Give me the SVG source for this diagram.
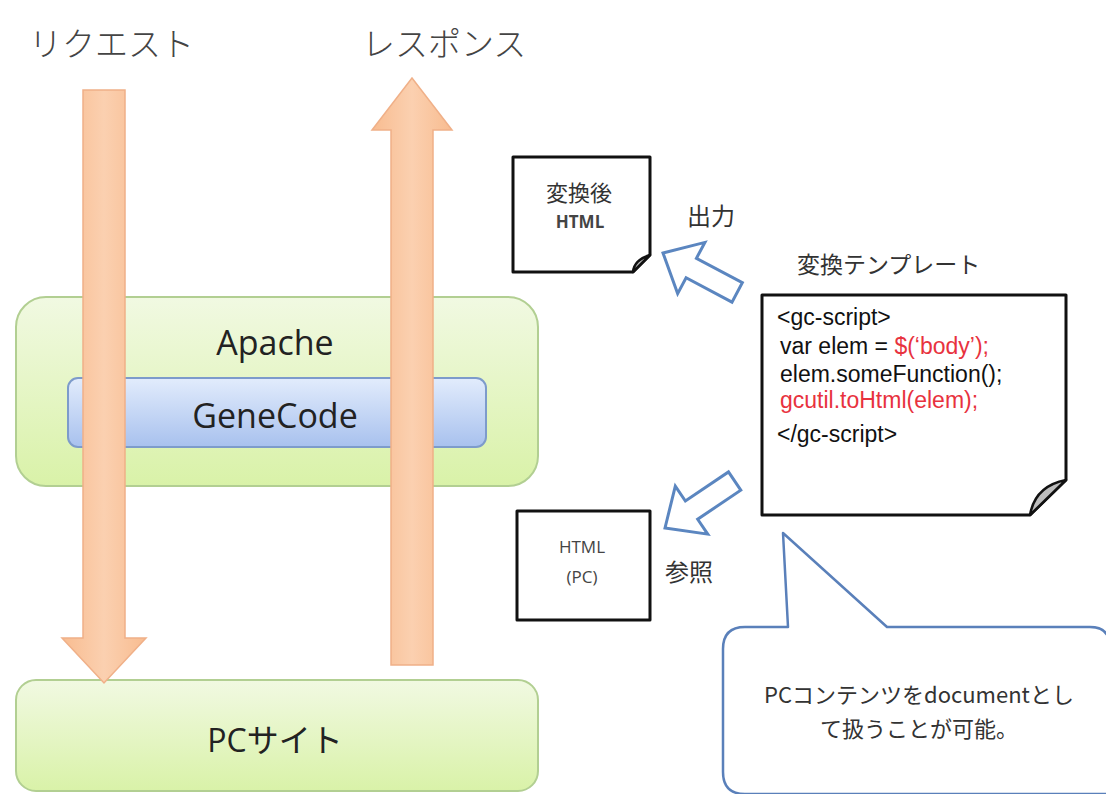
<svg xmlns="http://www.w3.org/2000/svg" width="1106" height="794" viewBox="0 0 1106 794">
<defs>
<linearGradient id="gGreen" x1="0" y1="0" x2="0" y2="1"><stop offset="0" stop-color="#f1f9e2"/><stop offset="1" stop-color="#d9f2a8"/></linearGradient>
<linearGradient id="gBlue" x1="0" y1="0" x2="0" y2="1"><stop offset="0" stop-color="#e2ecfc"/><stop offset="1" stop-color="#a8c1ee"/></linearGradient>
<linearGradient id="gOrange" x1="0" y1="0" x2="1" y2="0"><stop offset="0" stop-color="#f8bc90"/><stop offset="0.5" stop-color="#fbd0b0"/><stop offset="1" stop-color="#f8bc90"/></linearGradient>
<style>
.jp{font-family:"Noto Sans CJK JP","Noto Sans",sans-serif;fill:#333}
.title{font-family:"Noto Sans CJK JP","Noto Sans",sans-serif;fill:#444;font-weight:300}
.lat{font-family:"Open Sans","Liberation Sans","Noto Sans CJK JP",sans-serif;fill:#222}
.code{font-family:"Liberation Sans","Noto Sans",sans-serif;font-size:23px;fill:#111}
.red{fill:#e8323e}
.box{fill:url(#gGreen);stroke:#b2cf92;stroke-width:2}
.doc{fill:#fff;stroke:#111;stroke-width:3;stroke-linejoin:round}
.fold{fill:#bdbdbd;stroke:#111;stroke-width:2.5;stroke-linejoin:round}
.barrow{fill:#fff;stroke:#5b86c0;stroke-width:3;stroke-linejoin:miter}
.orange{fill:url(#gOrange);stroke:#f0b088;stroke-width:1.5}
</style>
</defs>
<rect width="1106" height="794" fill="#fff"/>

<g id="label-request"><text class="title" x="29" y="56" font-size="33">リクエスト</text></g>
<g id="label-response"><text class="title" x="362" y="56" font-size="33">レスポンス</text></g>

<g id="apache">
<rect class="box" x="16" y="297" width="522" height="189" rx="30"/>
<text class="lat" x="275" y="355" font-size="34" text-anchor="middle">Apache</text>
</g>
<g id="genecode">
<rect x="68" y="378" width="418" height="69" rx="10" fill="url(#gBlue)" stroke="#7d9bcb" stroke-width="2"/>
<text class="lat" x="275" y="428" font-size="34" text-anchor="middle">GeneCode</text>
</g>
<g id="pcsite">
<rect class="box" x="16" y="680" width="522" height="111" rx="20"/>
<text class="lat" x="275" y="752" font-size="32" text-anchor="middle">PCサイト</text>
</g>

<g id="connectors">
<path class="orange" d="M83,90 H125 V638 H146 L104,683 L62,638 H83 Z"/>
<path class="orange" d="M391,665 V130 H372 L412,78 L452,130 H433 V665 Z"/>
<path class="barrow" transform="translate(663,253) rotate(28)" d="M0,0 L32,-29 L32,-11 L84,-11 L84,11 L32,11 L32,29 Z"/>
<path class="barrow" transform="translate(665,528) rotate(-34)" d="M0,0 L32,-29 L32,-11 L84,-11 L84,11 L32,11 L32,29 Z"/>
</g>

<g id="doc-converted">
<path class="doc" d="M513,157 H650 V255 L633,272 H513 Z"/>
<path class="fold" d="M650,255 L633,272 Q634,260 650,255 Z"/>
<text class="jp" x="579" y="201" font-size="22" text-anchor="middle">変換後</text>
<text class="lat" x="580" y="228" font-size="17" font-weight="bold" text-anchor="middle" style="fill:#444">HTML</text>
</g>
<g id="label-output"><text class="jp" x="687" y="225" font-size="24">出力</text></g>

<g id="doc-pc">
<path class="doc" d="M517,511 H650 V620 H517 Z"/>
<text class="lat" x="582" y="553" font-size="17" text-anchor="middle" style="fill:#444">HTML</text>
<text class="lat" x="582" y="583" font-size="17" text-anchor="middle" style="fill:#444">(PC)</text>
</g>
<g id="label-ref"><text class="jp" x="665" y="581" font-size="24">参照</text></g>

<g id="label-template"><text class="jp" x="797" y="273" font-size="23">変換テンプレート</text></g>
<g id="template">
<path class="doc" d="M762,295 H1066 V480 L1030,515 H762 Z"/>
<path class="fold" d="M1066,480 L1030,515 Q1035,486 1066,480 Z"/>
<text class="code" x="777" y="325">&lt;gc-script&gt;</text>
<text class="code" x="780" y="354">var elem = <tspan class="red">$(‘body’);</tspan></text>
<text class="code" x="780" y="382">elem.someFunction();</text>
<text class="code red" x="780" y="408">gcutil.toHtml(elem);</text>
<text class="code" x="777" y="442">&lt;/gc-script&gt;</text>
</g>

<g id="callout">
<path d="M788,627 L783,533 L887,627 H1090 Q1110,627 1110,647 V794 H745 Q723,794 723,772 V649 Q723,627 745,627 Z" fill="#fff" stroke="#5a80ba" stroke-width="2.5" stroke-linejoin="round"/>
<text class="jp" x="919" y="703" font-size="22" text-anchor="middle">PCコンテンツをdocumentとし</text>
<text class="jp" x="919" y="737" font-size="22" text-anchor="middle">て扱うことが可能。</text>
</g>
</svg>
